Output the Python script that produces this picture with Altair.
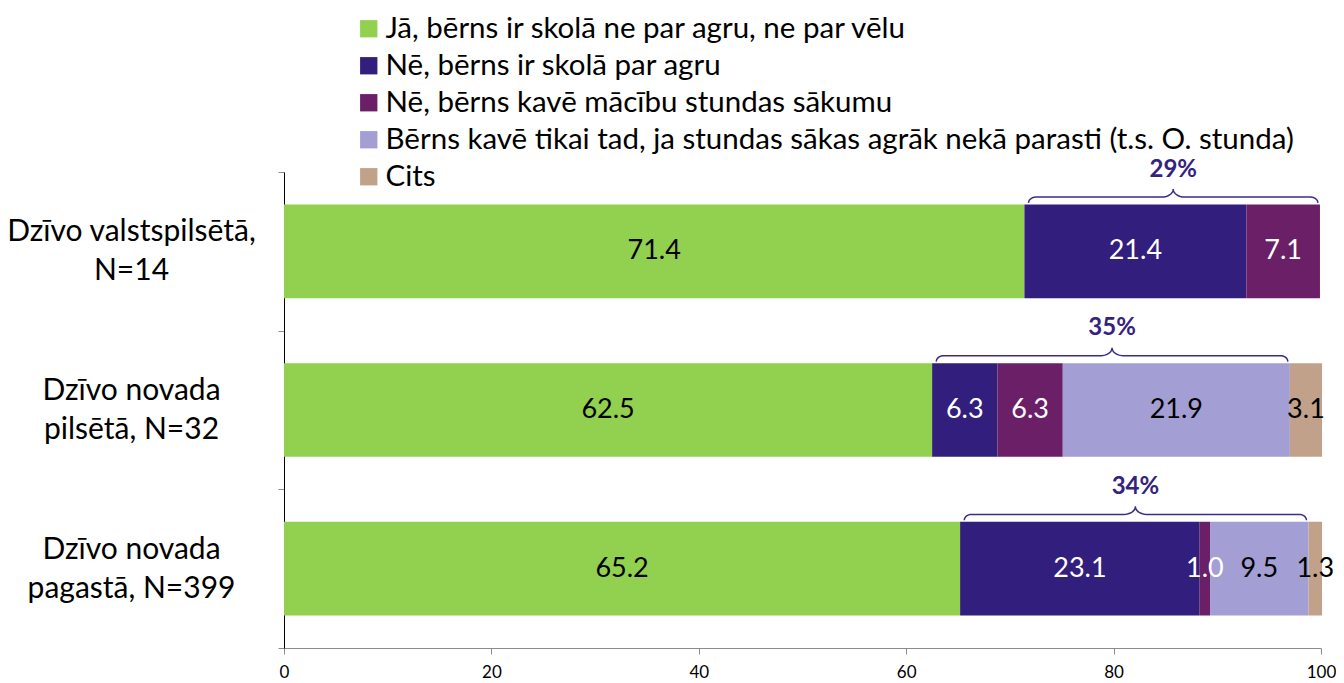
import math
import altair as alt
import pandas as pd

rows = ["Dzīvo valstspilsētā,\nN=14", "Dzīvo novada\npilsētā, N=32", "Dzīvo novada\npagastā, N=399"]
series = [
    "Jā, bērns ir skolā ne par agru, ne par vēlu",
    "Nē, bērns ir skolā par agru",
    "Nē, bērns kavē mācību stundas sākumu",
    "Bērns kavē tikai tad, ja stundas sākas agrāk nekā parasti (t.s. O. stunda)",
    "Cits",
]
colors = ["#92D050", "#321E7C", "#6B1F67", "#A39ED4", "#C2A18A"]
text_colors = ["black", "white", "white", "black", "black"]
values = [
    [71.4, 21.4, 7.1, 0.0, 0.0],
    [62.5, 6.3, 6.3, 21.9, 3.1],
    [65.2, 23.1, 1.0, 9.5, 1.3],
]
brace_labels = ["29%", "35%", "34%"]
x_ticks = [0, 20, 40, 60, 80, 100]

FONT = "Lato"

# bar table
recs = []
for i, r in enumerate(rows):
    start = 0.0
    for j, s in enumerate(series):
        v = values[i][j]
        recs.append(dict(row=r, series=s, order=j, x0=start, x1=start + v, v=v,
                         mid=start + v / 2, label=f"{v:.1f}", tc=text_colors[j]))
        start += v
bars_df = pd.DataFrame(recs)
labels_df = bars_df[bars_df["v"] > 0]

# brace geometry (derived from the bar segments it spans)
pts = []
lab = []
for i, r in enumerate(rows):
    s = values[i][0] + 0.4
    e = sum(values[i][:4]) - 0.2
    m = (s + e) / 2
    bottom, mid, peak = i + 0.195, i + 0.158, i + 0.108
    rr, RR = 0.7, 1.1
    k = 0
    n = 8
    for t in range(n + 1):
        a = math.pi / 2 * t / n
        pts.append(dict(b=i, k=k, x=s + rr * (1 - math.cos(a)), y=bottom - (bottom - mid) * math.sin(a))); k += 1
    for t in range(n + 1):
        a = math.pi / 2 * t / n
        pts.append(dict(b=i, k=k, x=m - RR + RR * math.sin(a), y=mid - (mid - peak) * (1 - math.cos(a)))); k += 1
    for t in range(n, -1, -1):
        a = math.pi / 2 * t / n
        pts.append(dict(b=i, k=k, x=m + RR - RR * math.sin(a), y=mid - (mid - peak) * (1 - math.cos(a)))); k += 1
    for t in range(n, -1, -1):
        a = math.pi / 2 * t / n
        pts.append(dict(b=i, k=k, x=e - rr * (1 - math.cos(a)), y=bottom - (bottom - mid) * math.sin(a))); k += 1
    lab.append(dict(x=m, y=i - 0.015, t=brace_labels[i]))
brace_df = pd.DataFrame(pts)
blab_df = pd.DataFrame(lab)

xscale = alt.Scale(domain=[0, 100])
yscale = alt.Scale(domain=rows, paddingInner=0, paddingOuter=0)

bars = alt.Chart(bars_df).mark_bar(size=93.6).encode(
    x=alt.X("x0:Q", scale=xscale, axis=alt.Axis(values=x_ticks, grid=False, title=None,
            labelFontSize=17, labelFont=FONT, labelColor="black", domainColor="#8C8C8C",
            tickColor="#8C8C8C", tickSize=6, labelPadding=10, labelFlush=False)),
    x2="x1:Q",
    y=alt.Y("row:N", scale=yscale, sort=rows, axis=alt.Axis(
        title=None, labelExpr="split(datum.label, '\\n')", labelAlign="center",
        labelPadding=147, labelFontSize=30, labelFont=FONT, labelColor="black",
        labelLineHeight=39, labelOffset=-19.5, domainColor="black", tickColor="#8C8C8C",
        tickSize=6, tickBand="extent", labelLimit=400)),
    color=alt.Color("series:N", scale=alt.Scale(domain=series, range=colors),
                    legend=alt.Legend(orient="none", legendX=70, legendY=-158, title=None,
                                      symbolType="square", symbolSize=300, symbolStrokeWidth=0,
                                      labelFontSize=29.5, labelFont=FONT, labelColor="black",
                                      labelLimit=2000, rowPadding=6, labelOffset=2,
                                      padding=0)),
    order="order:Q",
)

texts = alt.Chart(labels_df).mark_text(fontSize=27, font=FONT, baseline="middle", align="center").encode(
    x=alt.X("mid:Q", scale=xscale),
    y=alt.Y("row:N", scale=yscale, sort=rows, axis=None),
    text="label:N",
    color=alt.Color("tc:N", scale=None),
)

ybr = alt.Scale(domain=[0, 3], reverse=True)
brace = alt.Chart(brace_df).mark_line(color="#3B2C8A", strokeWidth=1.5, interpolate="linear").encode(
    x=alt.X("x:Q", scale=xscale),
    y=alt.Y("y:Q", scale=ybr, axis=None),
    detail="b:N",
    order="k:Q",
)
blabels = alt.Chart(blab_df).mark_text(fontSize=24, font=FONT, fontWeight="bold",
                                       color="#33237F", baseline="middle").encode(
    x=alt.X("x:Q", scale=xscale),
    y=alt.Y("y:Q", scale=ybr, axis=None),
    text="t:N",
)

chart = alt.layer(bars, texts, brace, blabels).resolve_scale(y="independent").properties(
    width=1037, height=476,
    autosize=alt.AutoSizeParams(type="none"),
    padding={"left": 276, "top": 164, "right": 15, "bottom": 34},
).configure_view(stroke=None)

chart.save("out.html", embed_options={"renderer": "svg", "actions": False})
